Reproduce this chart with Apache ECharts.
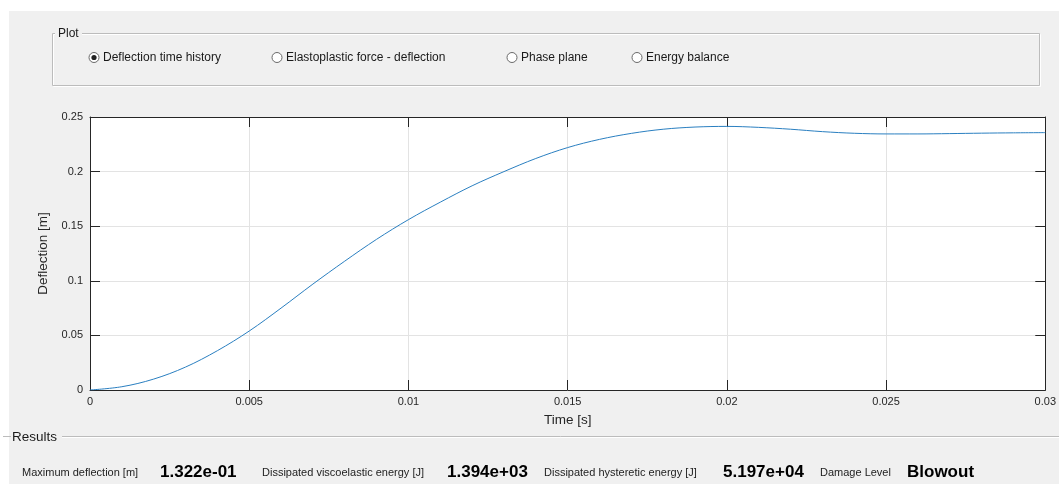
<!DOCTYPE html>
<html>
<head>
<meta charset="utf-8">
<title>Deflection time history</title>
<script src="https://cdn.jsdelivr.net/npm/echarts@6/dist/echarts.min.js"></script>
<style>
  html, body { margin: 0; padding: 0; background: #ffffff; }
  #chart { width: 1059px; height: 484px; }
</style>
</head>
<body>
<div id="chart"></div>
<script>
// Time samples [s] and the computed deflection response [m]
const timeValues = [
  0, 0.001, 0.002, 0.003, 0.004, 0.005, 0.006, 0.007, 0.008, 0.009, 0.010,
  0.011, 0.012, 0.013, 0.014, 0.015, 0.016, 0.017, 0.018, 0.019, 0.020,
  0.021, 0.022, 0.023, 0.024, 0.025, 0.026, 0.027, 0.028, 0.029, 0.030
];
const deflectionValues = [
  0, 0.003, 0.010, 0.021, 0.036, 0.054, 0.075, 0.097, 0.118, 0.138, 0.156,
  0.172, 0.187, 0.200, 0.212, 0.222, 0.2295, 0.2350, 0.2388, 0.2408, 0.2414,
  0.2405, 0.2388, 0.2366, 0.2351, 0.2345, 0.2345, 0.2348, 0.2352, 0.2355, 0.2357
];

// Axis ticks
const timeTicks = [0, 0.005, 0.01, 0.015, 0.02, 0.025, 0.03];
const deflectionTicks = [0, 0.05, 0.1, 0.15, 0.2, 0.25];

// Plot selector and results panel texts
const plotOptions = ['Deflection time history', 'Elastoplastic force - deflection', 'Phase plane', 'Energy balance'];
const plotOptionX = [94, 277, 512, 637];
const selectedPlot = 0;
const resultLabels = ['Maximum deflection [m]', 'Dissipated viscoelastic energy [J]', 'Dissipated hysteretic energy [J]', 'Damage Level'];
const resultValues = ['1.322e-01', '1.394e+03', '5.197e+04', 'Blowout'];
const resultLabelX = [22, 262, 544, 820];
const resultValueX = [160, 447, 723, 907];

const FONT = '"Liberation Sans", Arial, Helvetica, sans-serif';
const AXIS_COLOR = '#262626';
const GRID_COLOR = '#e3e3e3';

const seriesData = timeValues.map((t, i) => [t, deflectionValues[i]]);

const tStep = timeTicks[1] - timeTicks[0];
const dStep = deflectionTicks[1] - deflectionTicks[0];

// Opposite-side axes that close the box (ticks only, no labels)
function boxAxis(extra) {
  return Object.assign({
    type: 'value',
    axisLine: { show: true, onZero: false, lineStyle: { color: AXIS_COLOR, width: 1 } },
    axisTick: { show: true, inside: true, length: 10, lineStyle: { color: AXIS_COLOR, width: 1 } },
    axisLabel: { show: false },
    splitLine: { show: false }
  }, extra);
}

// UI decorations drawn around the axes
const graphics = [];
// white margins at top and left
graphics.push({ type: 'rect', shape: { x: 0, y: 0, width: 1059, height: 11 }, style: { fill: '#ffffff' }, silent: true });
graphics.push({ type: 'rect', shape: { x: 0, y: 0, width: 9, height: 484 }, style: { fill: '#ffffff' }, silent: true });

// "Plot" group box (etched border)
graphics.push({ type: 'rect', shape: { x: 53.5, y: 34.5, width: 987, height: 52 }, style: { fill: 'none', stroke: '#ffffff', lineWidth: 1 }, silent: true });
graphics.push({ type: 'rect', shape: { x: 52.5, y: 33.5, width: 987, height: 52 }, style: { fill: 'none', stroke: '#bcbcbc', lineWidth: 1 }, silent: true });
graphics.push({ type: 'rect', shape: { x: 55, y: 28, width: 27, height: 12 }, style: { fill: '#f0f0f0' }, silent: true });
graphics.push({ type: 'text', x: 58, y: 34, style: { text: 'Plot', font: '12px ' + FONT, fill: '#1a1a1a', verticalAlign: 'middle', align: 'left' }, silent: true });

plotOptions.forEach((label, i) => {
  const cx = plotOptionX[i];
  graphics.push({ type: 'circle', shape: { cx: cx, cy: 57.5, r: 5 }, style: { fill: '#ffffff', stroke: '#6a6a6a', lineWidth: 1 }, silent: true });
  if (i === selectedPlot) {
    graphics.push({ type: 'circle', shape: { cx: cx, cy: 57.5, r: 2.6 }, style: { fill: '#222222' }, silent: true });
  }
  graphics.push({ type: 'text', x: cx + 9, y: 58, style: { text: label, font: '12px ' + FONT, fill: '#1a1a1a', verticalAlign: 'middle', align: 'left' }, silent: true });
});

// "Results" group box top edge
graphics.push({ type: 'line', shape: { x1: 3, y1: 436.5, x2: 11, y2: 436.5 }, style: { stroke: '#bcbcbc', lineWidth: 1 }, silent: true });
graphics.push({ type: 'line', shape: { x1: 62, y1: 436.5, x2: 1059, y2: 436.5 }, style: { stroke: '#bcbcbc', lineWidth: 1 }, silent: true });
graphics.push({ type: 'line', shape: { x1: 62, y1: 437.5, x2: 1059, y2: 437.5 }, style: { stroke: '#ffffff', lineWidth: 1 }, silent: true });
graphics.push({ type: 'text', x: 12, y: 437, style: { text: 'Results', font: '13.5px ' + FONT, fill: '#1a1a1a', verticalAlign: 'middle', align: 'left' }, silent: true });

resultLabels.forEach((label, i) => {
  graphics.push({ type: 'text', x: resultLabelX[i], y: 473, style: { text: label, font: '11px ' + FONT, fill: '#222222', verticalAlign: 'middle', align: 'left' }, silent: true });
  graphics.push({ type: 'text', x: resultValueX[i], y: 472, style: { text: resultValues[i], font: 'bold 17px ' + FONT, fill: '#000000', verticalAlign: 'middle', align: 'left' }, silent: true });
});

const chart = echarts.init(document.getElementById('chart'), null, { renderer: 'canvas' });
chart.setOption({
  backgroundColor: '#f0f0f0',
  animation: false,
  textStyle: { fontFamily: FONT },
  grid: {
    left: 90, right: 12, top: 117, bottom: 94,
    show: true, backgroundColor: '#ffffff', borderWidth: 0
  },
  xAxis: [
    {
      type: 'value',
      position: 'bottom',
      min: timeTicks[0],
      max: timeTicks[timeTicks.length - 1],
      interval: tStep,
      name: 'Time [s]',
      nameLocation: 'middle',
      nameGap: 23,
      nameTextStyle: { fontSize: 13.5, color: AXIS_COLOR, fontFamily: FONT },
      axisLine: { show: true, onZero: false, lineStyle: { color: AXIS_COLOR, width: 1 } },
      axisTick: { show: true, inside: true, length: 10, lineStyle: { color: AXIS_COLOR, width: 1 } },
      axisLabel: { show: true, fontSize: 11, color: AXIS_COLOR, margin: 6, fontFamily: FONT },
      splitLine: { show: true, lineStyle: { color: GRID_COLOR, width: 1 } }
    },
    boxAxis({
      position: 'top',
      min: timeTicks[0],
      max: timeTicks[timeTicks.length - 1],
      interval: tStep
    })
  ],
  yAxis: [
    {
      type: 'value',
      position: 'left',
      min: deflectionTicks[0],
      max: deflectionTicks[deflectionTicks.length - 1],
      interval: dStep,
      name: 'Deflection [m]',
      nameLocation: 'middle',
      nameRotate: 90,
      nameGap: 34,
      nameTextStyle: { fontSize: 13.5, color: AXIS_COLOR, fontFamily: FONT },
      axisLine: { show: true, onZero: false, lineStyle: { color: AXIS_COLOR, width: 1 } },
      axisTick: { show: true, inside: true, length: 10, lineStyle: { color: AXIS_COLOR, width: 1 } },
      axisLabel: { show: true, fontSize: 11, color: AXIS_COLOR, margin: 7, fontFamily: FONT },
      splitLine: { show: true, lineStyle: { color: GRID_COLOR, width: 1 } }
    },
    boxAxis({
      position: 'right',
      min: deflectionTicks[0],
      max: deflectionTicks[deflectionTicks.length - 1],
      interval: dStep
    })
  ],
  series: [
    {
      type: 'line',
      xAxisIndex: 0,
      yAxisIndex: 0,
      data: seriesData,
      showSymbol: false,
      smooth: 0.35,
      lineStyle: { color: '#2a7fc0', width: 1 },
      z: 3
    }
  ],
  graphic: { elements: graphics }
});
</script>
</body>
</html>
